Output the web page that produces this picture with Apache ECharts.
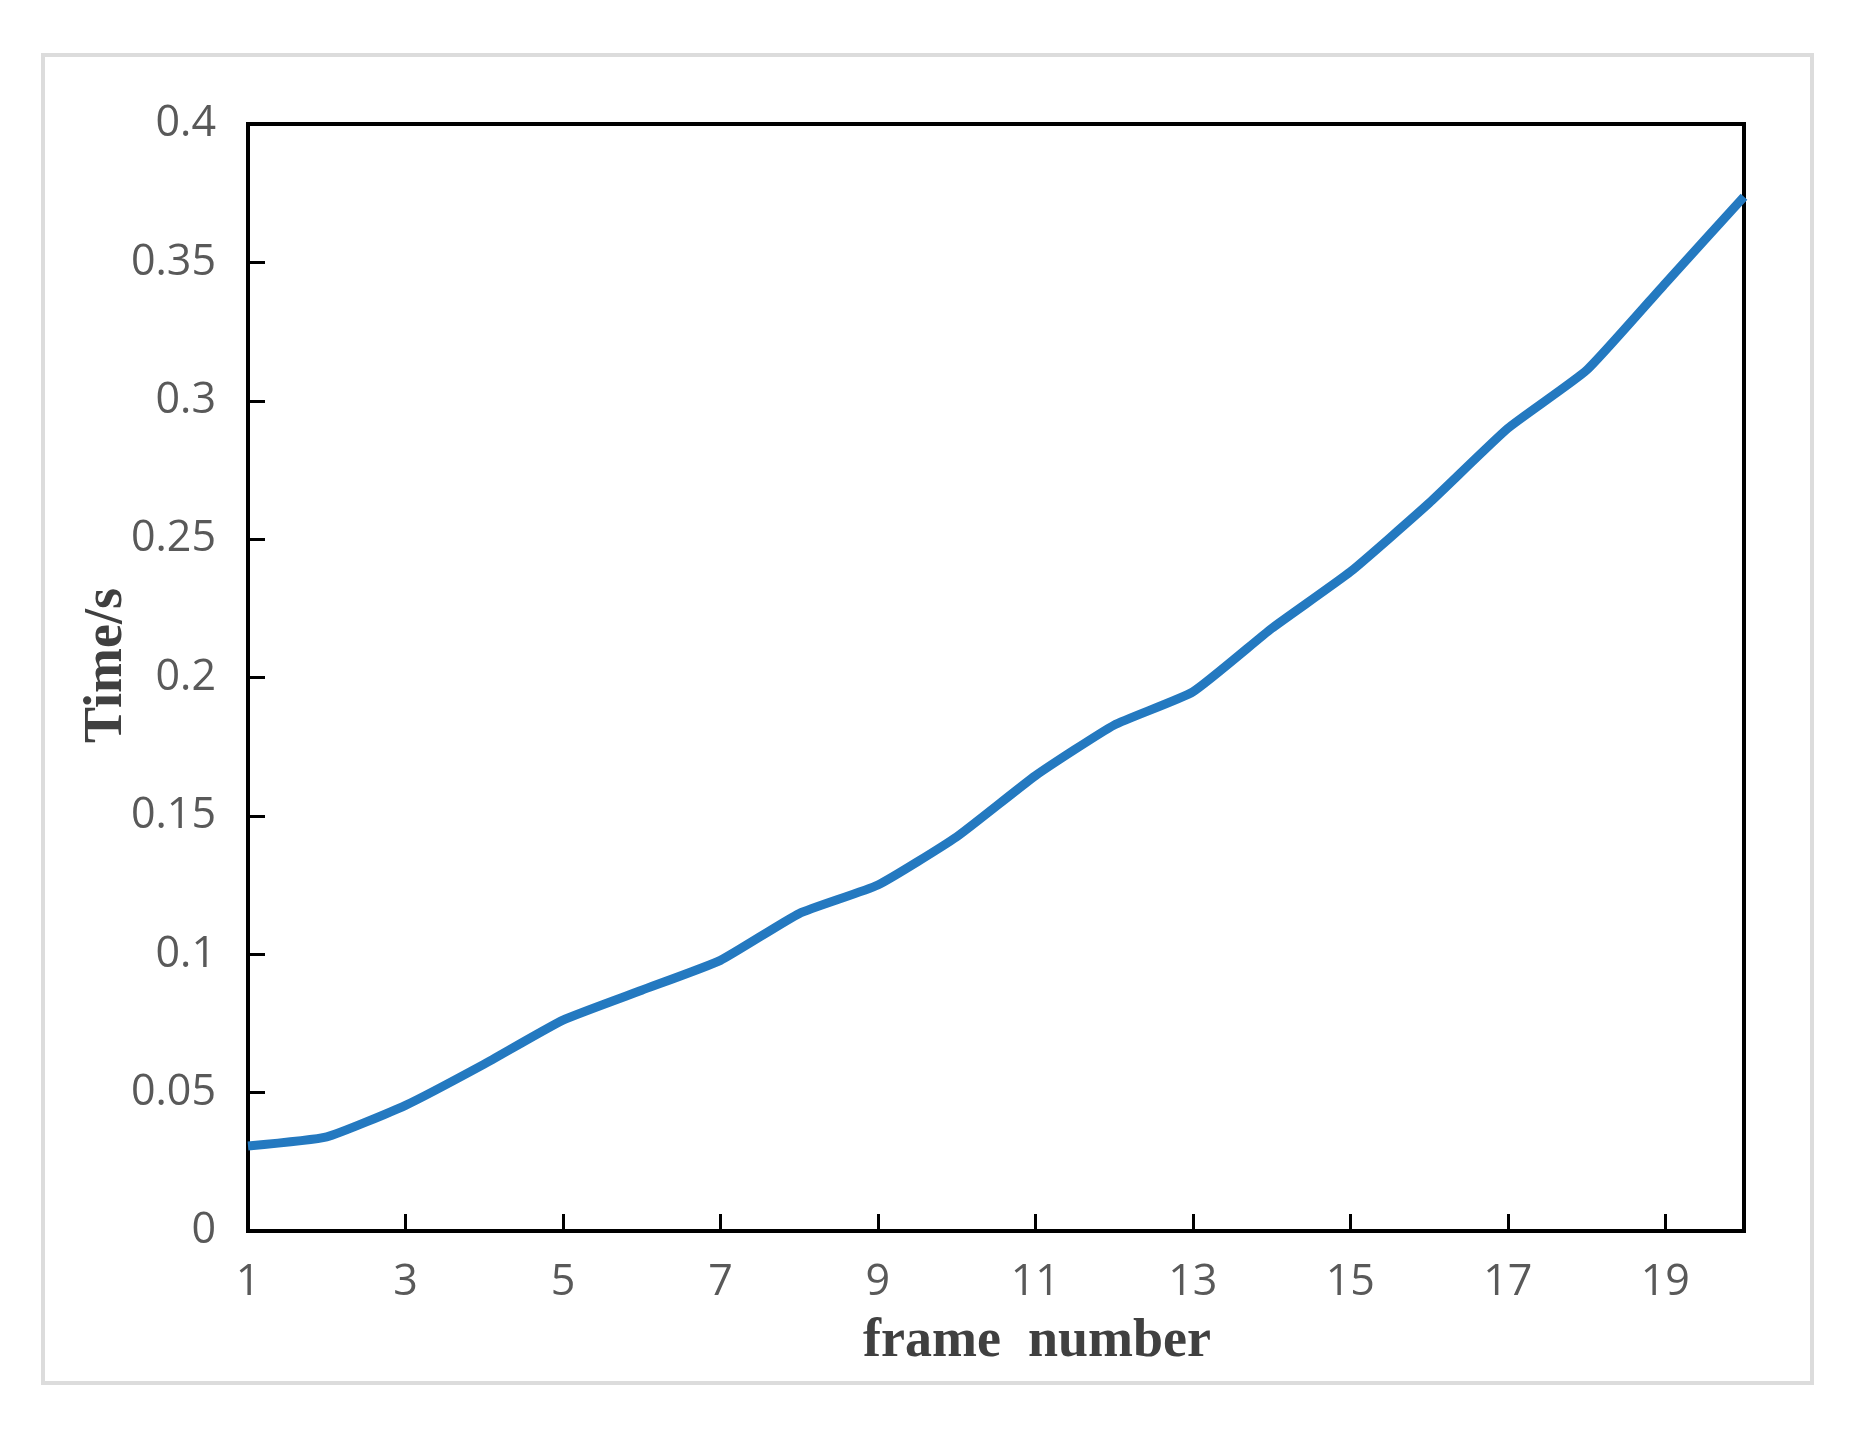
<!DOCTYPE html>
<html>
<head>
<meta charset="utf-8">
<script src="https://cdn.jsdelivr.net/npm/echarts@6/dist/echarts.min.js"></script>
<style>
html,body{margin:0;padding:0;background:#fff;}
#chart{width:1864px;height:1438px;}
</style>
</head>
<body>
<div id="chart"></div>
<script>
const frames = ['1','2','3','4','5','6','7','8','9','10','11','12','13','14','15','16','17','18','19','20'];
const times = [0.0307, 0.034, 0.0454, 0.0603, 0.0762, 0.087, 0.0978, 0.1147, 0.125, 0.1424,
               0.1645, 0.1828, 0.1948, 0.2177, 0.2382, 0.263, 0.290, 0.311, 0.3424, 0.3737];
const yTicks = [0, 0.05, 0.1, 0.15, 0.2, 0.25, 0.3, 0.35, 0.4];
const xTitle = 'frame  number';
const yTitle = 'Time/s';

const chart = echarts.init(document.getElementById('chart'), null, {renderer: 'canvas'});
const labelColor = '#595959';
const labelFont = 'Open Sans';
const option = {
  backgroundColor: '#ffffff',
  animation: false,
  graphic: [{
    type: 'rect',
    shape: {x: 43, y: 55, width: 1769, height: 1328},
    style: {fill: 'none', stroke: '#dcdcdc', lineWidth: 4},
    z: 0
  }],
  grid: {
    left: 248, top: 124, right: 120, bottom: 207,
    show: true, borderColor: '#000', borderWidth: 4,
    containLabel: false, outerBoundsMode: 'none'
  },
  xAxis: {
    type: 'category',
    data: frames,
    boundaryGap: false,
    axisLine: {show: true, lineStyle: {color: '#000', width: 4}},
    axisTick: {show: true, inside: true, length: 17, interval: 1, lineStyle: {color: '#000', width: 3}},
    axisLabel: {interval: 1, color: labelColor, fontFamily: labelFont, fontSize: 43, margin: 30},
    splitLine: {show: false},
    name: xTitle,
    nameLocation: 'middle',
    nameGap: 84,
    nameMoveOverlap: false,
    nameTextStyle: {fontFamily: 'Liberation Serif', fontWeight: 'bold', fontSize: 54, color: '#404040', padding: [0, 0, 0, 82]}
  },
  yAxis: {
    type: 'value',
    min: 0, max: 0.4, interval: 0.05,
    axisLine: {show: true, lineStyle: {color: '#000', width: 4}},
    axisTick: {show: true, inside: true, length: 17, lineStyle: {color: '#000', width: 3}},
    axisLabel: {color: labelColor, fontFamily: labelFont, fontSize: 43, margin: 32,
      formatter: function (v) { return String(parseFloat(v.toFixed(2))); }},
    splitLine: {show: false},
    name: yTitle,
    nameLocation: 'middle',
    nameGap: 114,
    nameMoveOverlap: false,
    nameTextStyle: {fontFamily: 'Liberation Serif', fontWeight: 'bold', fontSize: 54, color: '#404040', padding: [0, 0, 0, 24]}
  },
  series: [{
    type: 'line',
    data: times,
    smooth: 0.15,
    showSymbol: false,
    lineStyle: {color: '#2479c0', width: 9},
    itemStyle: {color: '#2479c0'},
    z: 3
  }]
};
chart.setOption(option);
</script>
</body>
</html>
